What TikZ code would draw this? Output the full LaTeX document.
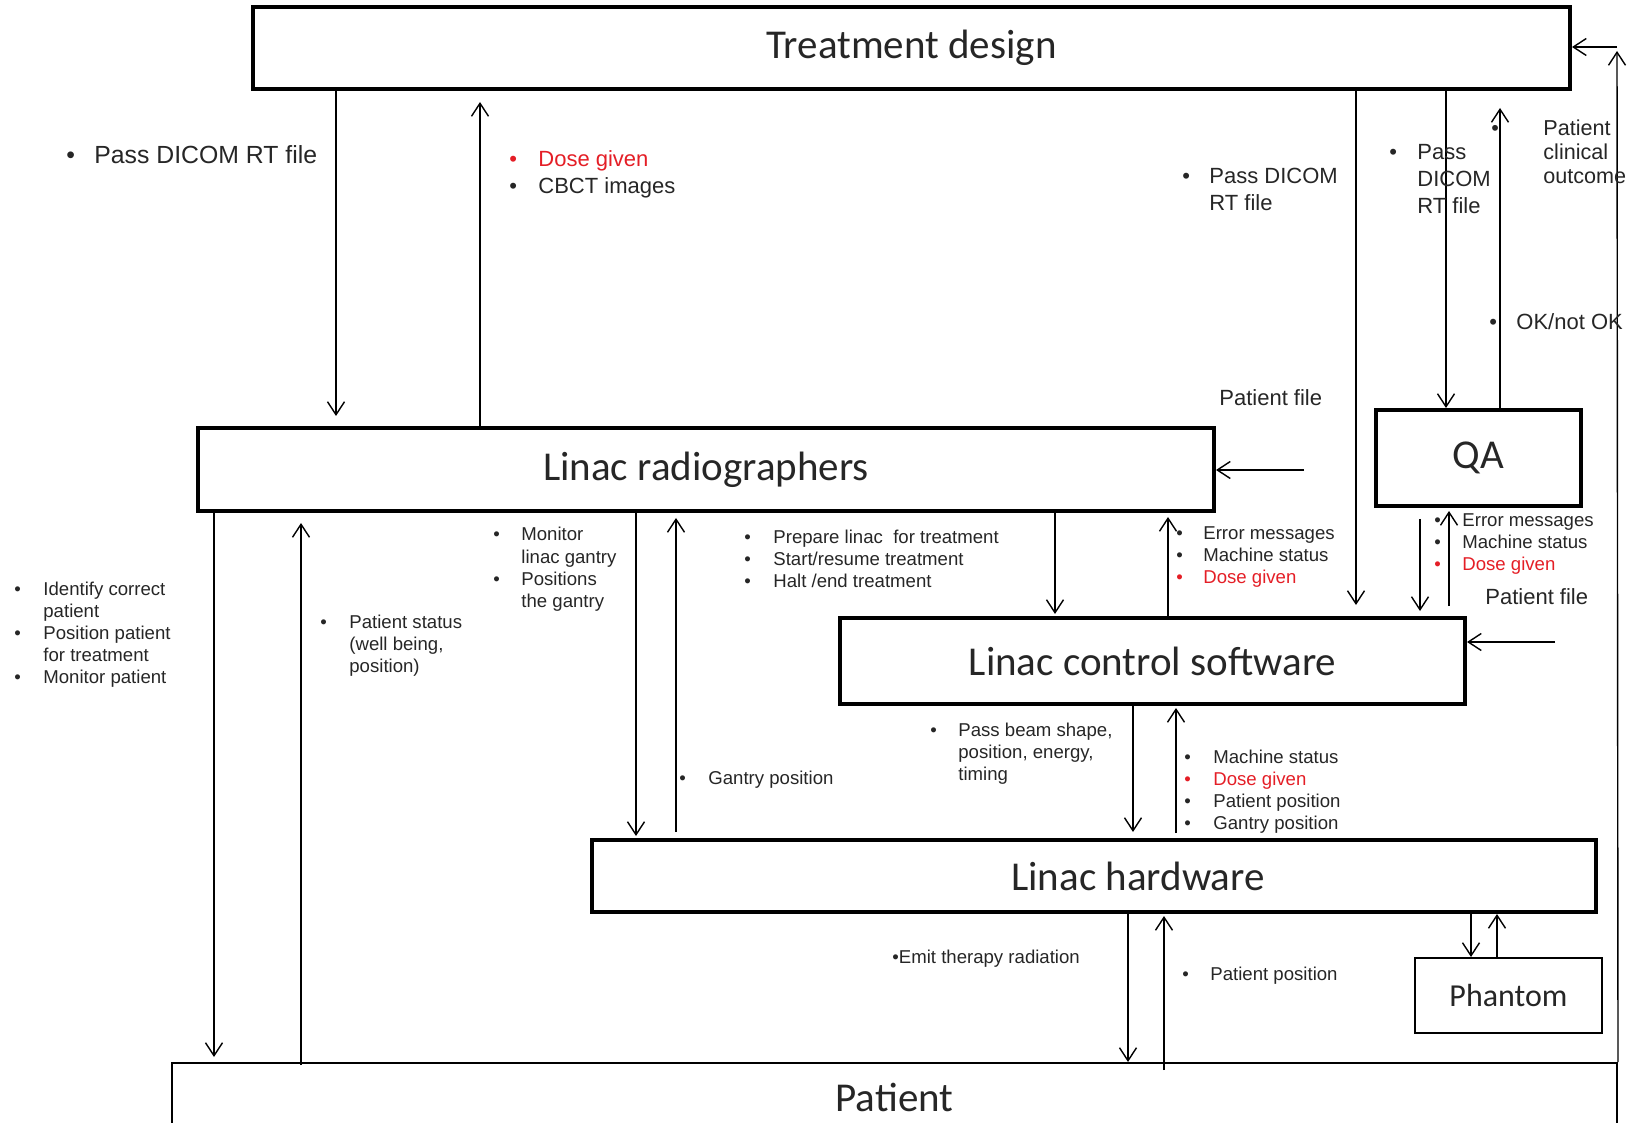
\documentclass[tikz,border=0pt]{standalone}
\usepackage{fontspec}
\setmainfont{Liberation Sans}
\newfontfamily\boxfont{Carlito}
\usetikzlibrary{arrows.meta}
\definecolor{dosered}{RGB}{228,30,38}
\newcommand{\bu}{\textbullet}
\newcommand{\blist}[2]{\begin{tabular}[t]{@{}p{#1}@{}l@{}}#2\end{tabular}}
\newcommand{\dosegiven}{\textcolor{dosered}{\bu} & \textcolor{dosered}{Dose given}}

\begin{document}
\begin{tikzpicture}[x=0.5pt,y=-0.5pt,
  box/.style={draw, line width=2pt, inner sep=0pt, text=black!85,
    font=\boxfont\fontsize{20.5}{24}\selectfont},
  thinbox/.style={draw, line width=1pt, inner sep=0pt, text=black!85},
  flow/.style={-{Straight Barb[length=6.5pt,width=8.5pt]}, line width=0.7pt},
  lbl/.style={anchor=base west, inner sep=0pt, text=black!85},
  small/.style={font=\fontsize{9.3}{11}\selectfont},
  mid/.style={font=\fontsize{11}{13.5}\selectfont}]
  \useasboundingbox (0,0) rectangle (1630,1123);
  \clip (0,0) rectangle (1630,1123);

  % boxes
  \node[box, minimum width=658.5pt, minimum height=41pt] (td) at (911.5,48) {Treatment design};
  \node[box, minimum width=508pt, minimum height=41.5pt] (lr) at (706,469.5) {Linac radiographers};
  \node[box, minimum width=102.5pt, minimum height=48pt] (qa) at (1478.5,458) {QA};
  \node[box, minimum width=312.5pt, minimum height=43pt] (lcs) at (1152.5,661) {Linac control software};
  \node[box, minimum width=502pt, minimum height=36pt] (lh) at (1094,876) {\hspace*{44pt}Linac hardware};
  \node[thinbox, font=\boxfont\fontsize{16}{19}\selectfont, minimum width=93.5pt, minimum height=37.5pt] (phantom) at (1508.5,995.5) {Phantom};
  \node[thinbox, font=\boxfont\fontsize{20.5}{24}\selectfont, minimum width=722.5pt, minimum height=34pt] (patient) at (894.5,1097) {Patient};

  % vertical flows: x / from / to / shorten start / shorten end
  \foreach \x/\s/\t/\sa/\sb in {336/td.south/lr.north/0/5, 480/lr.north/td.south/0/5.5,
      1356/td.south/lcs.north/0/5.5, 1446/td.south/qa.north/0/0, 1500/qa.north/td.south/0/8.5,
      214/lr.south/patient.north/0/2.5, 301/patient.north/lr.south/-1.5/5,
      636/lr.south/lh.north/0/1, 676/lh.north/lr.south/3/2.5,
      1055/lr.south/lcs.north/0/1, 1168/lcs.north/lr.south/0/2,
      1420/qa.south/lcs.north/5.5/2.5, 1449/lcs.north/qa.south/5/1.5,
      1133/lcs.south/lh.north/0/3, 1176/lh.north/lcs.south/2.5/1,
      1128/lh.south/patient.north/0/0, 1164/patient.north/lh.south/-4/1,
      1471/lh.south/phantom.north/0/0, 1497/phantom.north/lh.south/0/0}
    \draw[flow, shorten <=\sa pt, shorten >=\sb pt] (\s -| \x,0) -- (\t -| \x,0);

  % horizontal flows
  \coordinate (pfa) at (1304,470);
  \coordinate (pfb) at (1555,642);
  \coordinate (fb) at (1617,47);
  \draw[flow] (pfa) -- (lr.east |- pfa);
  \draw[flow] (pfb) -- (lcs.east |- pfb);
  \draw[flow, shorten >=2pt] (patient.north east) -- (fb);
  \draw[flow] (fb) -- (td.east |- fb);

  % labels
  \node[lbl, font=\fontsize{12.4}{14.5}\selectfont] (l1) at (66,164) {\blist{14pt}{\bu & Pass DICOM RT file}};
  \node[lbl, mid] (l2) at (509,167) {\blist{14.5pt}{\dosegiven\\ \bu & CBCT images}};
  \node[lbl, mid] (l3) at (1182,184) {\blist{13.5pt}{\bu & Pass DICOM\\ & RT file}};
  \node[lbl, mid] (l4) at (1389,160) {\blist{14pt}{\bu & Pass\\ & DICOM\\ & RT file}};
  \node[lbl, font=\fontsize{10.8}{12}\selectfont] (l5) at (1491,136) {\blist{26pt}{\bu & Patient\\ & clinical\\ & outcome}};
  \node[lbl, mid] (l6) at (1489,330) {\blist{13.5pt}{\bu & OK/not OK}};
  \node[lbl, mid] (l7) at (1219,406) {Patient file};
  \node[lbl, mid] (l8) at (1485,604) {Patient file};
  \node[lbl, small] (l9) at (14,596) {\blist{14.5pt}{\bu & Identify correct\\ & patient\\ \bu & Position patient\\ & for treatment\\ \bu & Monitor patient}};
  \node[lbl, small] (l10) at (320,628) {\blist{14.5pt}{\bu & Patient status\\ & (well being,\\ & position)}};
  \node[lbl, small] (l11) at (493,541) {\blist{14pt}{\bu & Monitor\\ & linac gantry\\ \bu & Positions\\ & the gantry}};
  \node[lbl, small] (l12) at (744,544) {\blist{14.5pt}{\bu & Prepare linac\ \ for treatment\\ \bu & Start/resume treatment\\ \bu & Halt /end treatment}};
  \node[lbl, small] (l13) at (1176,539) {\blist{13.5pt}{\bu & Error messages\\ \bu & Machine status\\ \dosegiven}};
  \node[lbl, small] (l14) at (1434,526) {\blist{14pt}{\bu & Error messages\\ \bu & Machine status\\ \dosegiven}};
  \node[lbl, small] (l15) at (930,736) {\blist{14pt}{\bu & Pass beam shape,\\ & position, energy,\\ & timing}};
  \node[lbl, small] (l16) at (1184,763) {\blist{14.5pt}{\bu & Machine status\\ \dosegiven\\ \bu & Patient position\\ \bu & Gantry position}};
  \node[lbl, small] (l17) at (679,784) {\blist{14.5pt}{\bu & Gantry position}};
  \node[lbl, small] (l18) at (892,963) {\bu Emit therapy radiation};
  \node[lbl, small] (l19) at (1182,980) {\blist{14pt}{\bu & Patient position}};
\end{tikzpicture}
\end{document}
